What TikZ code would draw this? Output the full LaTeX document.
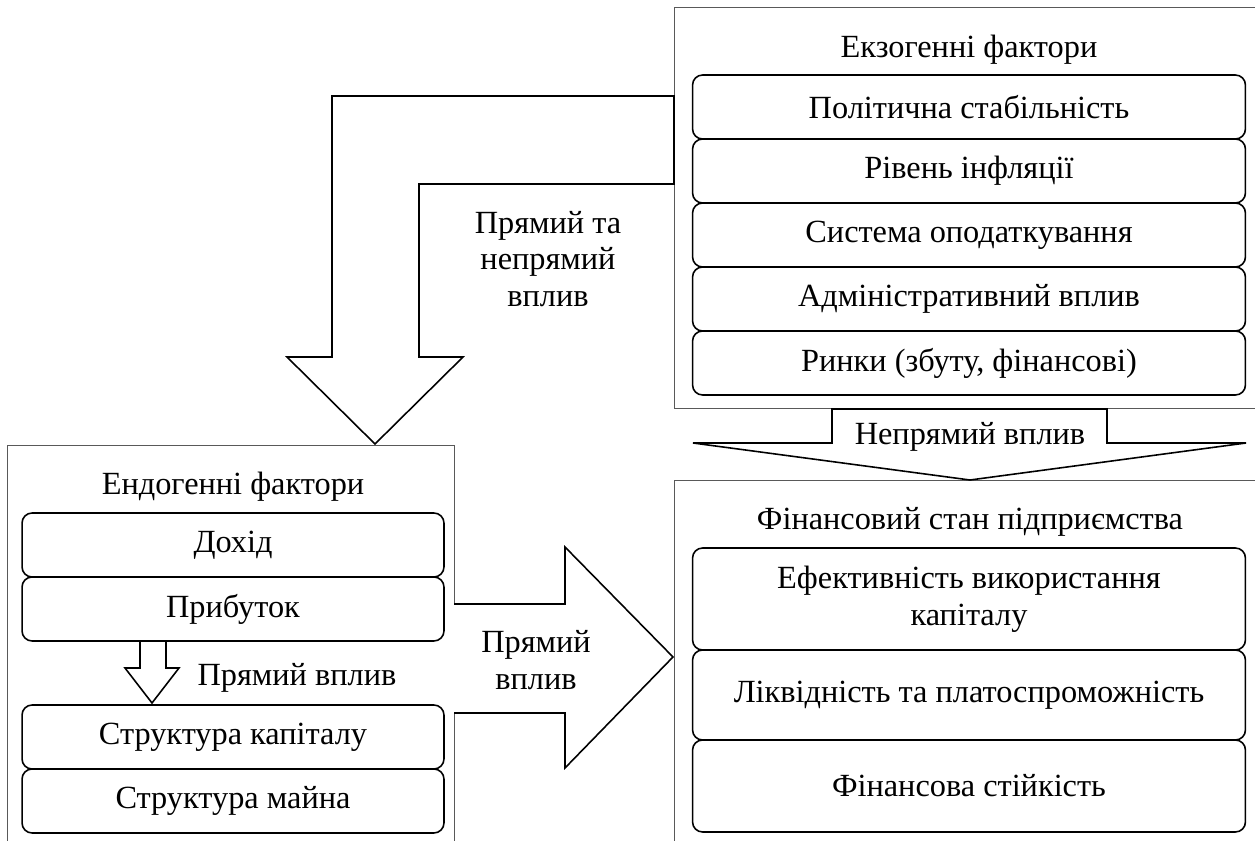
\documentclass[tikz,border=0pt]{standalone}
\usepackage{fontspec}
\setmainfont{Liberation Serif}
\begin{document}
\begin{tikzpicture}[x=0.02cm, y=-0.02cm,
  every node/.style={font=\fontsize{18.4}{21}\selectfont, align=center},
  frame/.style={draw=black!65, line width=0.5pt},
  item/.style={draw, line width=0.9pt, rounded corners=0.2cm, minimum width=11.06cm, minimum height=1.28cm, inner sep=0pt},
  block/.style={draw, line width=0.9pt, fill=white, line join=miter}]
\useasboundingbox (0,0) rectangle (1255,841);
\clip (0,0) rectangle (1255,841);
% outer frames
\draw[frame] (674,7) rectangle (1280,408);
\draw[frame] (7,445) rectangle (454,870);
\draw[frame] (674,480) rectangle (1280,870);
% exogenous factors
\node (exo) at (969,50) {Екзогенні фактори};
\node[item] (polit) at (969,107) {Політична стабільність};
\node[item] (infl) at (969,171) {Рівень інфляції};
\node[item] (tax) at (969,235) {Система оподаткування};
\node[item] (admin) at (969,299) {Адміністративний вплив};
\node[item] (mark) at (969,363) {Ринки (збуту, фінансові)};
% endogenous factors
\node (endo) at (233,487) {Ендогенні фактори};
\node[item, minimum width=8.44cm] (income) at (233,545) {Дохід};
\node[item, minimum width=8.44cm] (profit) at (233,609) {Прибуток};
\node[item, minimum width=8.44cm] (capstr) at (233,737) {Структура капіталу};
\node[item, minimum width=8.44cm] (assets) at (233,801) {Структура майна};
% financial state
\node (fin) at (970,522) {Фінансовий стан підприємства};
\node[item, minimum height=2.04cm] (eff) at (969,599) {Ефективність використання\\капіталу};
\node[item, minimum height=1.8cm] (liq) at (969,695) {Ліквідність та платоспроможність};
\node[item, minimum height=1.84cm] (stab) at (969,786) {Фінансова стійкість};
% block arrows
\draw[block] (674,96) -- (332,96) -- (332,357) -- (287,357) -- (375,444)
  -- (463,357) -- (419,357) -- (419,184) -- (674,184) -- cycle;
\draw[block] (832,409) -- (832,443) -- (693,443) -- (970,480) -- (1246,443)
  -- (1107,443) -- (1107,409) -- cycle;
\draw[block] (454,604) -- (565,604) -- (565,547) -- (673,657) -- (565,768)
  -- (565,713) -- (454,713);
\draw[block] (140,642) -- (140,668) -- (125,668) -- (152,703) -- (179,668)
  -- (166,668) -- (166,642);
% labels
\node (both) at (548,259) {Прямий та\\непрямий\\вплив};
\node (indir) at (970,437) {Непрямий вплив};
\node (dir) at (536,660) {Прямий\\вплив};
\node (dirin) at (297,678) {Прямий вплив};
\end{tikzpicture}
\end{document}
